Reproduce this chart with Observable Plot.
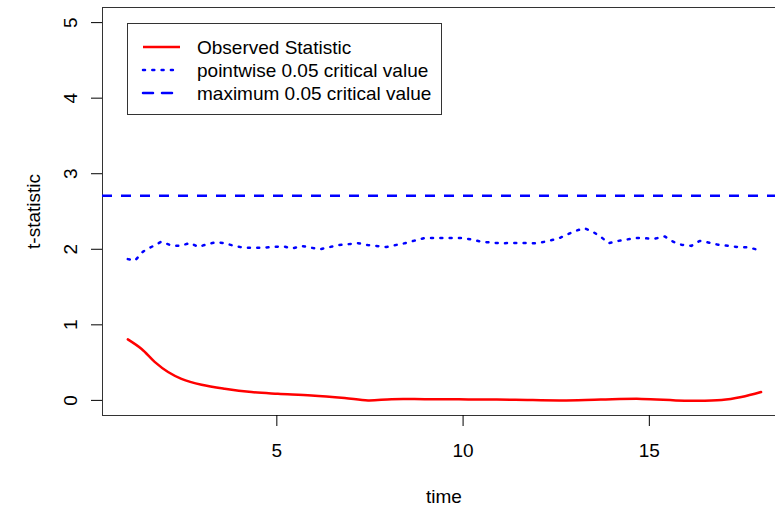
<!DOCTYPE html>
<html><head><meta charset="utf-8">
<script src="https://cdn.jsdelivr.net/npm/d3@7"></script>
<script src="https://cdn.jsdelivr.net/npm/@observablehq/plot@0.6"></script>
<style>
body{margin:0;background:#fff;}
#wrap{position:relative;width:775px;height:510px;overflow:hidden;font-family:"Liberation Sans",Arial,sans-serif;}
#legend{position:absolute;left:127px;top:23px;}
</style>
</head><body>
<div id="wrap"><div id="chart"></div><div id="legend"></div></div>
<script>
// Observed statistic
const obsTime = [1.0, 1.37, 1.72, 2.08, 2.44, 2.98, 3.6, 4.32, 5.03, 5.93, 6.82, 7.45, 8.08, 8.97, 10.14, 11.4, 12.64, 13.7, 14.79, 15.95, 16.94, 17.47, 18.0];
const observed = [0.807, 0.68, 0.51, 0.375, 0.285, 0.207, 0.154, 0.11, 0.088, 0.066, 0.031, 0.0, 0.016, 0.016, 0.013, 0.008, 0.0, 0.012, 0.02, -0.004, 0.004, 0.044, 0.11];
// Pointwise 0.05 critical value
const pwTime = [1.0, 1.19, 1.41, 1.63, 1.9, 2.17, 2.41, 2.67, 2.89, 3.14, 3.38, 3.59, 3.86, 4.12, 4.63, 5.17, 5.41, 5.66, 6.15, 6.65, 7.18, 7.45, 7.94, 8.43, 8.7, 8.97, 9.46, 9.96, 10.22, 10.49, 10.98, 11.52, 12.01, 12.28, 12.55, 13.0, 13.25, 13.49, 13.71, 13.91, 14.16, 14.65, 15.15, 15.41, 15.64, 15.86, 16.13, 16.35, 16.58, 16.85, 17.38, 17.65, 17.95];
const pointwise = [1.87, 1.85, 1.97, 2.03, 2.1, 2.05, 2.045, 2.085, 2.03, 2.07, 2.095, 2.08, 2.045, 2.02, 2.02, 2.04, 2.01, 2.045, 2.0, 2.055, 2.08, 2.055, 2.03, 2.08, 2.115, 2.15, 2.15, 2.15, 2.13, 2.1, 2.08, 2.085, 2.08, 2.11, 2.14, 2.24, 2.28, 2.23, 2.16, 2.08, 2.11, 2.15, 2.14, 2.17, 2.1, 2.06, 2.045, 2.11, 2.09, 2.06, 2.03, 2.025, 1.99];
// Maximum 0.05 critical value
const maxCrit = 2.71;
const xTicks = [5, 10, 15];
const yTicks = [0, 1, 2, 3, 4, 5];
const legendLabels = ["Observed Statistic", "pointwise 0.05 critical value", "maximum 0.05 critical value"];
const legendColors = ["#ff0000", "#0000ff", "#0000ff"];
const legendDash = [null, "2,7.3", "10,9"];

const obsData = obsTime.map((t, i) => ({t, v: observed[i]}));
const pwData = pwTime.map((t, i) => ({t, v: pointwise[i]}));

const chart = Plot.plot({
  width: 775, height: 510,
  marginLeft: 102, marginRight: 0, marginTop: 7, marginBottom: 95,
  style: {fontSize: "19px", fontFamily: '"Liberation Sans", Arial, sans-serif', background: "#fff", color: "#000"},
  x: {domain: [0.32, 18.387]},
  y: {domain: [-0.2, 5.2]},
  marks: [
    Plot.frame({anchor: "top", stroke: "#333"}),
    Plot.frame({anchor: "left", stroke: "#333"}),
    Plot.frame({anchor: "bottom", stroke: "#333"}),
    Plot.axisX({ticks: xTicks, tickSize: 11, tickPadding: 17, label: null, stroke: "#000"}),
    Plot.axisY({ticks: yTicks, tickSize: 11, tickRotate: -90, tickPadding: 15, tickFormat: d3.format("d"), label: "t-statistic", labelAnchor: "center", labelOffset: 76, labelArrow: "none"}),
    Plot.text(["time"], {frameAnchor: "bottom", dy: 87, dx: 5, fontSize: 19}),
    Plot.ruleY([maxCrit], {stroke: "#0000ff", strokeWidth: 2.5, strokeDasharray: "10,9"}),
    Plot.line(pwData, {x: "t", y: "v", stroke: "#0000ff", strokeWidth: 2.5, strokeDasharray: "2,7.3", strokeLinecap: "round"}),
    Plot.line(obsData, {x: "t", y: "v", stroke: "#ff0000", strokeWidth: 2.5, curve: "catmull-rom"})
  ]
});
document.getElementById("chart").appendChild(chart);

// Legend
const W = 315, H = 92;
const lg = d3.select("#legend").append("svg").attr("width", W).attr("height", H)
  .style("font-family", '"Liberation Sans", Arial, sans-serif').style("font-size", "19px");
lg.append("rect").attr("x", 0.5).attr("y", 0.5).attr("width", W - 1).attr("height", H - 1)
  .attr("fill", "#fff").attr("stroke", "#333");
legendLabels.forEach((lab, i) => {
  const cy = 24 + i * 23;
  const ln = lg.append("line").attr("x1", 16).attr("x2", 53).attr("y1", cy).attr("y2", cy)
    .attr("stroke", legendColors[i]).attr("stroke-width", 2.5).attr("stroke-linecap", i === 0 ? "butt" : "round");
  if (legendDash[i]) ln.attr("stroke-dasharray", legendDash[i]);
  lg.append("text").attr("x", 70).attr("y", cy).attr("dy", "0.35em").text(lab);
});
</script>
</body></html>
